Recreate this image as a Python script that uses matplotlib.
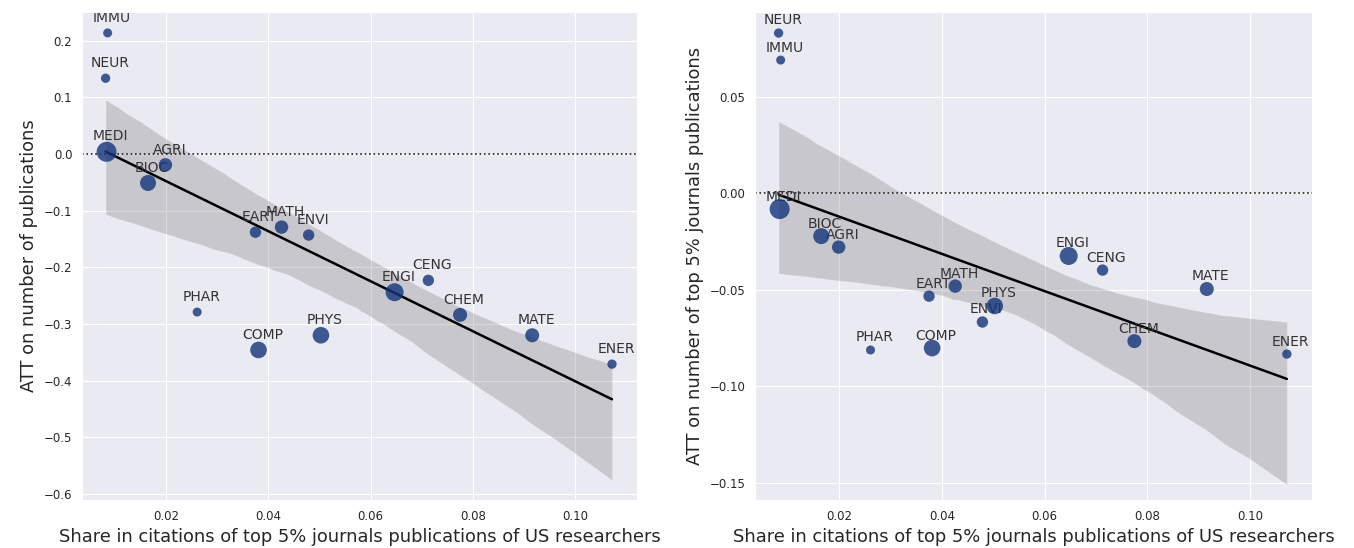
import numpy as np
import pandas as pd
import matplotlib
matplotlib.use('Agg')
import matplotlib.pyplot as plt
import seaborn as sns

sns.set_style('darkgrid')
plt.rcParams['font.family'] = ['DejaVu Sans']

# Fields (Scopus subject areas)
fields = ['IMMU', 'NEUR', 'MEDI', 'AGRI', 'BIOC', 'EART', 'MATH', 'ENVI',
          'PHAR', 'COMP', 'PHYS', 'ENGI', 'CENG', 'CHEM', 'MATE', 'ENER']

# share in citations of top 5% journal publications of US researchers
us_share = [0.0086, 0.0082, 0.0084, 0.0199, 0.0165, 0.0375, 0.0426, 0.0479,
            0.0261, 0.0381, 0.0503, 0.0647, 0.0713, 0.0775, 0.0916, 0.1072]

# ATT on number of publications
att_pubs = [0.214, 0.134, 0.004, -0.019, -0.051, -0.138, -0.129, -0.143,
            -0.279, -0.346, -0.320, -0.244, -0.223, -0.284, -0.320, -0.371]

# ATT on number of top 5% journals publications
att_top5 = [0.0689, 0.0829, -0.0083, -0.0280, -0.0223, -0.0534, -0.0482, -0.0668,
            -0.0813, -0.0803, -0.0585, -0.0326, -0.0399, -0.0767, -0.0497, -0.0834]

# relative field size (sets the marker area)
field_weight = [42, 45, 207, 93, 133, 67, 93, 67,
                42, 143, 143, 168, 67, 102, 102, 45]

df = pd.DataFrame({'field': fields, 'share': us_share, 'att_pubs': att_pubs,
                   'att_top5': att_top5, 'w': field_weight})

fig = plt.figure(figsize=(13.54, 5.48), dpi=100)
ax1 = fig.add_axes([0.0606, 0.0876, 0.4099, 0.8905])
ax2 = fig.add_axes([0.5576, 0.0876, 0.4114, 0.8905])

panels = [(ax1, 'att_pubs', 'ATT on number of publications', (0.251, -0.611), 6),
          (ax2, 'att_top5', 'ATT on number of top 5% journals publications', (0.0938, -0.159), 4)]

px = 72.0 / fig.dpi  # one pixel in points

for ax, col, ylab, ylim, dy in panels:
    sns.regplot(data=df, x='share', y=col, ax=ax, scatter=False, color='k',
                seed=3, line_kws={'lw': 1.8})
    ax.scatter(df['share'], df[col], s=df['w'], color='#13357a', alpha=0.8,
               edgecolor='none', zorder=3)
    ax.axhline(0, color='#222222', ls=':', lw=1.2, zorder=1)
    for i, row in df.iterrows():
        ax.annotate(row['field'], (row['share'], row[col]),
                    xytext=(4 * px, dy), textcoords='offset points',
                    ha='center', va='bottom', fontsize=10, color='#333333',
                    zorder=2)
    ax.set_xlim(0.0036, 0.1121)
    ax.set_ylim(ylim[1], ylim[0])
    ax.set_xlabel('Share in citations of top 5% journals publications of US researchers',
                  fontsize=12.9)
    ax.set_ylabel(ylab, fontsize=12.9)
    ax.tick_params(axis='both', labelsize=8.5)

ax1.set_xticks([0.02, 0.04, 0.06, 0.08, 0.10])
ax2.set_xticks([0.02, 0.04, 0.06, 0.08, 0.10])
ax1.set_yticks([0.2, 0.1, 0.0, -0.1, -0.2, -0.3, -0.4, -0.5, -0.6])
ax2.set_yticks([0.05, 0.0, -0.05, -0.10, -0.15])

fig.savefig('out.png', dpi=100)
